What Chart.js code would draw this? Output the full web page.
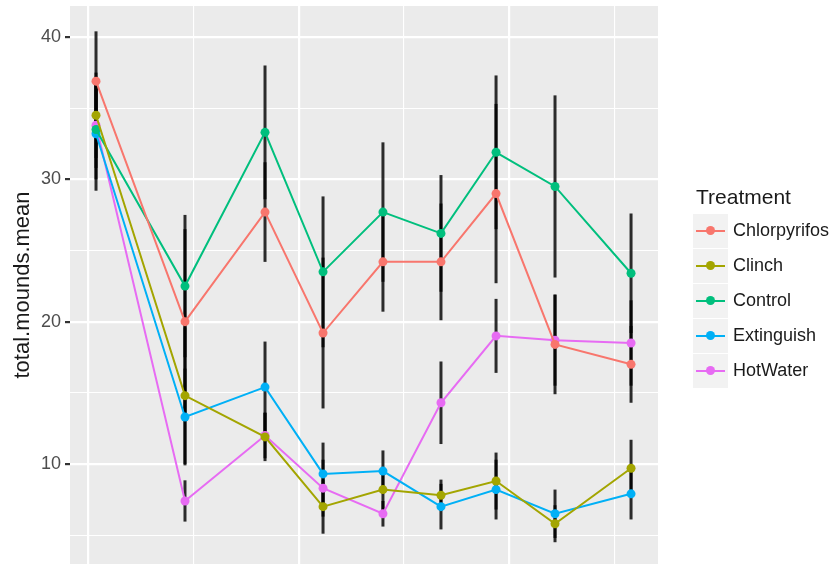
<!DOCTYPE html>
<html>
<head>
<meta charset="utf-8">
<script src="https://cdn.jsdelivr.net/npm/chart.js@4.4.0/dist/chart.umd.min.js"></script>
<style>
    body { margin: 0; background: #fff; font-family: "Liberation Sans", Arial, sans-serif; }
    #wrap { position: relative; width: 836px; height: 564px; overflow: hidden; }
    #legend { position: absolute; left: 693px; top: 183px; color: #1a1a1a; }
    #legend .title { font-size: 21px; margin-left: 3px; height: 30px; line-height: 28px; }
    #legend .row { display: flex; align-items: center; height: 35px; }
    #legend .key { position: relative; width: 35px; height: 34px; background: #f2f2f2; margin-right: 5px; }
    #legend .key .ln { position: absolute; left: 3px; right: 3px; top: 16px; height: 2px; }
    #legend .key .dot { position: absolute; left: 12.5px; top: 12.5px; width: 9px; height: 9px; border-radius: 50%; }
    #legend .lbl { font-size: 18px; }
</style>
</head>
<body>
<div id="wrap">
    <canvas id="chart" width="836" height="564"></canvas>
    <div id="legend"></div>
</div>
<script>
// sampling positions along x (gridline spacing = 1)
const xValues = [0.076, 0.921, 1.681, 2.232, 2.801, 3.352, 3.875, 4.435, 5.157];

const treatments = ['Chlorpyrifos', 'Clinch', 'Control', 'Extinguish', 'HotWater'];
const colors = ['#F8766D', '#A3A500', '#00BF7D', '#00B0F6', '#E76BF3'];

// means
const chlorpyrifos = [36.9, 20.0, 27.7, 19.2, 24.2, 24.2, 29.0, 18.4, 17.0];
const clinch       = [34.5, 14.8, 11.9, 7.0, 8.2, 7.8, 8.8, 5.8, 9.7];
const control      = [33.5, 22.5, 33.3, 23.5, 27.7, 26.2, 31.9, 29.5, 23.4];
const extinguish   = [33.2, 13.3, 15.4, 9.3, 9.5, 7.0, 8.2, 6.5, 7.9];
const hotWater     = [33.8, 7.4, 12.0, 8.3, 6.5, 14.3, 19.0, 18.7, 18.5];

// error bar half widths
const chlorpyrifosErr = [3.5, 6.5, 3.5, 5.3, 3.5, 4.1, 6.3, 3.5, 2.7];
const clinchErr       = [3.0, 4.8, 1.7, 1.9, 1.5, 1.1, 2.0, 1.3, 2.0];
const controlErr      = [3.5, 5.0, 4.7, 5.3, 4.9, 4.1, 5.4, 6.4, 4.2];
const extinguishErr   = [4.0, 3.4, 3.2, 2.2, 1.45, 1.6, 2.1, 1.7, 1.8];
const hotWaterErr     = [3.0, 1.45, 1.6, 2.0, 0.9, 2.9, 2.6, 3.2, 3.0];

const yTickLabels = [10, 20, 30, 40];

const means = [chlorpyrifos, clinch, control, extinguish, hotWater];
const errs = [chlorpyrifosErr, clinchErr, controlErr, extinguishErr, hotWaterErr];

const datasets = treatments.map((name, i) => ({
    label: name,
    data: means[i].map((v, j) => ({ x: xValues[j], y: v })),
    errors: errs[i],
    borderColor: colors[i],
    backgroundColor: colors[i],
    borderWidth: 2,
    pointRadius: 4.5,
    pointBorderWidth: 0,
    tension: 0
}));

// grey panel
const panelBg = {
    id: 'panelBg',
    beforeDraw(chart) {
        const { ctx, chartArea: a } = chart;
        ctx.save();
        ctx.fillStyle = '#ebebeb';
        ctx.fillRect(a.left, a.top, a.right - a.left, a.bottom - a.top);
        ctx.restore();
    }
};

// black vertical error bars under the lines
const errorBars = {
    id: 'errorBars',
    beforeDatasetsDraw(chart) {
        const { ctx, chartArea: a, scales: { x, y } } = chart;
        ctx.save();
        ctx.beginPath();
        ctx.rect(a.left, a.top, a.right - a.left, a.bottom - a.top);
        ctx.clip();
        ctx.strokeStyle = 'rgba(0,0,0,0.82)';
        ctx.lineWidth = 3;
        chart.data.datasets.forEach(ds => {
            ds.data.forEach((p, j) => {
                const px = x.getPixelForValue(p.x);
                ctx.beginPath();
                ctx.moveTo(px, y.getPixelForValue(p.y - ds.errors[j]));
                ctx.lineTo(px, y.getPixelForValue(p.y + ds.errors[j]));
                ctx.stroke();
            });
        });
        ctx.restore();
    }
};

new Chart(document.getElementById('chart'), {
    type: 'line',
    data: { datasets },
    options: {
        responsive: false,
        animation: false,
        events: [],
        // panel runs off the bottom edge like the cropped original
        layout: { autoPadding: false, padding: { left: 0, top: 6, right: 178, bottom: 0 } },
        plugins: { legend: { display: false }, tooltip: { enabled: false } },
        scales: {
            x: {
                type: 'linear',
                min: -0.171,
                max: 5.413,
                border: { display: false },
                ticks: { display: false, stepSize: 1, includeBounds: false },
                grid: {
                    color: '#ffffff',
                    drawTicks: false,
                    lineWidth: c => (c.tick && c.tick.value % 2 === 0 ? 2.2 : 1.1)
                },
                afterFit: s => { s.height = 0; s.paddingLeft = 0; s.paddingRight = 0; }
            },
            y: {
                min: 2.97,
                max: 42.18,
                border: { display: false },
                ticks: {
                    stepSize: 5,
                    includeBounds: false,
                    color: '#4d4d4d',
                    padding: 4,
                    font: { family: '"Liberation Sans", Arial, sans-serif', size: 18 },
                    callback: v => (yTickLabels.includes(v) ? String(v) : '')
                },
                grid: {
                    color: '#ffffff',
                    tickLength: 5,
                    tickColor: c => (c.tick && c.tick.value % 10 === 0 ? '#333333' : 'rgba(0,0,0,0)'),
                    lineWidth: c => (c.tick && c.tick.value % 10 === 0 ? 2.2 : 1.1)
                },
                title: {
                    display: true,
                    text: 'total.mounds.mean',
                    color: '#1a1a1a',
                    padding: { top: 10, bottom: 0 },
                    font: { family: '"Liberation Sans", Arial, sans-serif', size: 22 }
                },
                afterFit: s => { s.width = 70; s.paddingTop = 0; s.paddingBottom = 0; }
            }
        }
    },
    plugins: [panelBg, errorBars]
});

// legend
const legend = document.getElementById('legend');
legend.innerHTML = '<div class="title">Treatment</div>' + treatments.map((t, i) =>
    `<div class="row"><div class="key"><div class="ln" style="background:${colors[i]}"></div>` +
    `<div class="dot" style="background:${colors[i]}"></div></div><span class="lbl">${t}</span></div>`
).join('');
</script>
</body>
</html>
